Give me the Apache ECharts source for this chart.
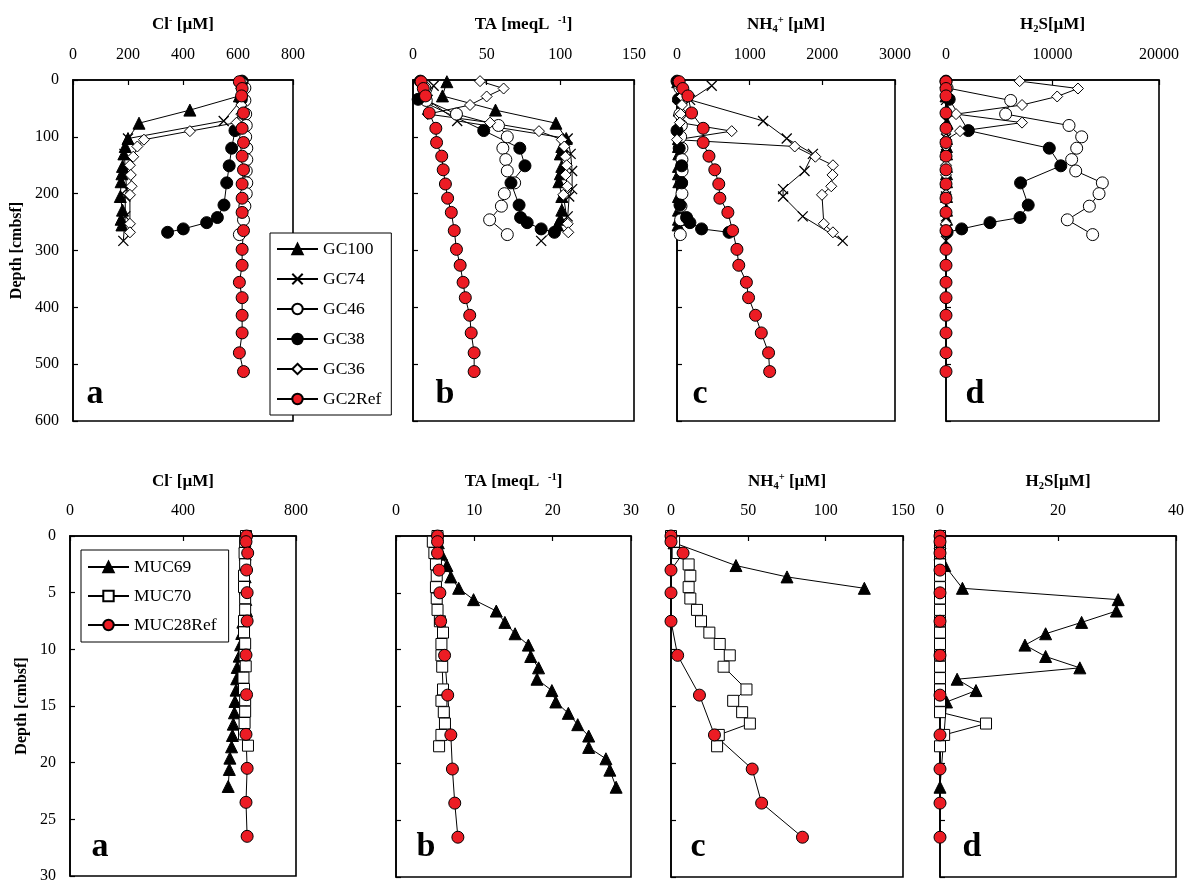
<!DOCTYPE html>
<html><head><meta charset="utf-8">
<script src="https://cdn.jsdelivr.net/npm/echarts@6/dist/echarts.min.js"></script>
<style>html,body{margin:0;padding:0;background:#fff}#c{width:1189px;height:884px}</style>
</head><body><div id="c"></div><script>
// ===== Gravity cores (top row); depth in cmbsf =====
const gc100Depth = [3, 28, 53, 76, 103, 117, 130, 152, 165, 179, 205, 229, 245, 255];
const gc100Cl  = [615, 605, 425, 240, 200, 190, 185, 180, 178, 175, 172, 180, 175, 178];
const gc100TA  = [23, 20, 56, 97, 104, 101, 100, 101, 100, 99, 101, 101, 100, 98];
const gc100NH4 = [10, 20, 30, 25, 20, 20, 25, 20, 20, 25, 20, 20, 20, 15];
const gc100H2S = [0, 0, 100, 100, 50, 50, 50, 50, 50, 50, 50, 50, 50, 50];

const gc74Depth = [10, 35, 72, 103, 130, 160, 192, 205, 240, 283];
const gc74Cl  = [615, 612, 548, 200, 187, 190, 195, 190, 190, 183];
const gc74TA  = [14, 10, 30, 105, 107, 108, 108, 106, 105, 87];
const gc74NH4 = [478, 180, 1185, 1510, 1870, 1755, 1460, 1460, 1730, 2280];
const gc74H2S = [0, 0, 0, 0, 0, 0, 0, 0, 0, 0];

const gc46Depth = [14, 36, 60, 80, 100, 120, 140, 160, 181, 200, 222, 246, 272];
const gc46Cl  = [625, 625, 628, 630, 628, 632, 632, 630, 632, 630, 625, 620, 605];
const gc46TA  = [8, 9, 29.5, 58, 64, 61, 63, 64, 69, 62, 60, 52, 64];
const gc46NH4 = [40, 50, 40, 60, 50, 68, 68, 70, 60, 68, 55, 50, 45];
const gc46H2S = [100, 6075, 5600, 11550, 12740, 12270, 11800, 12180, 14680, 14370, 13460, 11390, 13770];

const gc38Depth = [2, 34, 89, 120, 151, 181, 220, 242, 251, 262, 268];
const gc38Cl  = [615, 612, 589, 577, 568, 559, 549, 525, 486, 401, 344];
const gc38TA  = [5, 3.5, 48, 72.5, 76, 66.5, 72, 73, 77.5, 87, 96];
const gc38NH4 = [0, 20, 0, 30, 64, 64, 41, 132, 178, 338, 716];
const gc38H2S = [0, 300, 2100, 9700, 10780, 7000, 7720, 6950, 4130, 1470, 100];

const gc36Depth = [2, 15, 29, 44, 60, 75, 90, 105, 117, 135, 150, 167, 187, 202, 253, 268];
const gc36Cl  = [615, 612, 612, 612, 612, 595, 425, 258, 234, 219, 207, 210, 213, 207, 207, 207];
const gc36TA  = [45.5, 61.5, 50, 38.7, 10, 52.3, 85.5, 101, 102.7, 103.5, 104.3, 103.6, 104.7, 102, 105, 105.4];
const gc36NH4 = [10, 60, 70, 68, 50, 40, 753, 0, 1620, 1904, 2146, 2140, 2123, 1995, 2020, 2146];
const gc36H2S = [6915, 12390, 10440, 7140, 943, 7140, 1320, 0, 0, 0, 0, 0, 0, 0, 0, 0];

const gc2Depth = [3, 15, 28, 58, 85, 110, 134, 158, 183, 208, 233, 265, 298, 326, 356, 383, 414, 445, 480, 513];
const gc2Cl  = [605, 615, 613, 620, 615, 620, 615, 620, 615, 615, 615, 620, 615, 615, 605, 615, 615, 615, 605, 620];
const gc2TA  = [5.5, 7, 8.5, 11, 15.5, 16, 19.5, 20.5, 22, 23.5, 26, 28, 29.5, 32, 34, 35.5, 38.5, 39.5, 41.5, 41.5];
const gc2NH4 = [30, 80, 150, 200, 360, 360, 440, 520, 575, 590, 700, 765, 825, 850, 955, 985, 1080, 1160, 1260, 1275];
const gc2H2S = [0, 0, 0, 0, 0, 0, 0, 0, 0, 0, 0, 0, 0, 0, 0, 0, 0, 0, 0, 0];

// ===== Multicorer cores (bottom row) =====
const muc69Depth = [0.6, 1.6, 2.6, 3.6, 4.6, 5.6, 6.6, 7.6, 8.6, 9.6, 10.6, 11.6, 12.6, 13.6, 14.6, 15.6, 16.6, 17.6, 18.6, 19.6, 20.6, 22.1];
const muc69Cl  = [620, 620, 622, 620, 620, 622, 625, 612, 608, 604, 599, 592, 590, 588, 584, 582, 578, 575, 572, 566, 564, 560];
const muc69TA  = [5.4, 5.8, 6.5, 7.0, 8.0, 9.9, 12.8, 13.9, 15.2, 16.9, 17.2, 18.2, 18.0, 19.9, 20.4, 22.0, 23.2, 24.6, 24.6, 26.8, 27.3, 28.1];
const muc69NH4 = [2, null, 42, 75, 125, null, null, null, null, null, null, null, null, null, null, null, null, null, null, null, null, null];
const muc69H2S = [0, 0, 0.8, null, 3.8, 30.2, 29.9, 24, 17.9, 14.4, 17.9, 23.7, 2.9, 6.1, 1.1, null, null, null, null, null, null, 0];

const muc70Depth = [0, 0.5, 1.5, 2.5, 3.5, 4.5, 5.5, 6.5, 7.5, 8.5, 9.5, 10.5, 11.5, 12.5, 13.5, 14.5, 15.5, 16.5, 17.5, 18.5];
const muc70Cl  = [623, 620, 618, 620, 616, 616, 620, 620, 616, 616, 620, 618, 622, 614, 616, 620, 620, 618, 616, 630];
const muc70TA  = [5.3, 4.7, 4.9, 5.1, 5.2, 5.1, 5.2, 5.3, 5.6, 6.0, 5.8, 5.8, 5.9, null, 6.0, 5.8, 6.1, 6.25, 5.8, 5.5];
const muc70NH4 = [0, 2, 4.3, 11.4, 12.5, 11.4, 12.5, 16.8, 19.4, 24.8, 31.5, 38, 34, null, 48.8, 40.2, 46, 51, 30.9, 29.8];
const muc70H2S = [0, 0, 0, 0, 0, 0, 0, 0, 0, 0, 0, 0, 0, 0, 0, 0, 0, 7.8, 0.7, 0];

const muc28Depth = [0, 0.5, 1.5, 3, 5, 7.5, 10.5, 14, 17.5, 20.5, 23.5, 26.5];
const muc28Cl  = [625, 623, 629, 625, 627, 627, 623, 625, 623, 627, 623, 627];
const muc28TA  = [5.3, 5.3, 5.3, 5.5, 5.6, 5.7, 6.2, 6.6, 7.0, 7.2, 7.5, 7.9];
const muc28NH4 = [0, 0, 7.8, 0, 0, 0, 4.3, 18.4, 28.1, 52.5, 58.6, 85];
const muc28H2S = [0, 0, 0, 0, 0, 0, 0, 0, 0, 0, 0, 0];

// ===== Axis ranges / tick labels =====
const topXMax = [800, 150, 3000, 20000];
const topXStep = [200, 50, 1000, 10000];
const botXMax = [800, 30, 150, 40];
const botXStep = [400, 10, 50, 20];
const topDepthMax = 600, topDepthStep = 100;
const botDepthMax = 30, botDepthStep = 5;
const panelLetters = ['a', 'b', 'c', 'd'];
const titles = [
  '{t|Cl}{sup|-}{t| [µM]}',
  '{t|TA [meqL  }{sup|-1}{t|]}',
  '{t|NH}{sub|4}{sup|+}{t| [µM]}',
  '{t|H}{sub|2}{t|S[µM]}'
];

const SERIF = 'Liberation Serif';
const RED = '#ec1c24';
const XPATH = 'path://M0,0L10,10M10,0L0,10';

const topGrids = [
  {left: 73, top: 80, width: 220, height: 341},
  {left: 413, top: 80, width: 221, height: 341},
  {left: 677, top: 80, width: 218, height: 341},
  {left: 946, top: 80, width: 213, height: 341}
];
const botGrids = [
  {left: 70, top: 536, width: 226, height: 341},
  {left: 396, top: 536, width: 235, height: 341},
  {left: 671, top: 536, width: 232, height: 341},
  {left: 940, top: 536, width: 236, height: 341}
];

function pts(depths, vals) {
  const out = [];
  depths.forEach((d, i) => { if (vals[i] != null) out.push([vals[i], d]); });
  return out;
}

const rich = {
  t: {fontFamily: SERIF, fontWeight: 'bold', fontSize: 17, lineHeight: 20, color: '#000'},
  sup: {fontFamily: SERIF, fontWeight: 'bold', fontSize: 10.5, lineHeight: 10, verticalAlign: 'top', color: '#000'},
  sub: {fontFamily: SERIF, fontWeight: 'bold', fontSize: 10.5, lineHeight: 10, verticalAlign: 'bottom', color: '#000'}
};

const grids = [], xAxes = [], yAxes = [], series = [];
const axisCommon = {
  axisLine: {show: true, lineStyle: {color: '#000', width: 1.6}},
  axisTick: {show: true, inside: true, length: 5, lineStyle: {color: '#000', width: 1.2}},
  splitLine: {show: false}
};

function addPanel(g, row, i) {
  grids.push(Object.assign({show: true, borderColor: '#000', borderWidth: 1.6, backgroundColor: 'transparent'}, g));
  const idx = grids.length - 1;
  const xmax = row === 0 ? topXMax[i] : botXMax[i];
  const xstep = row === 0 ? topXStep[i] : botXStep[i];
  xAxes.push(Object.assign({
    type: 'value', gridIndex: idx, position: 'top', min: 0, max: xmax, interval: xstep,
    name: titles[i], nameLocation: 'middle', nameGap: row === 0 ? 45 : 44,
    nameTextStyle: {rich: rich},
    axisLabel: {show: true, margin: 17, fontFamily: SERIF, fontSize: 16, color: '#000', formatter: v => String(v)}
  }, axisCommon));
  yAxes.push(Object.assign({
    type: 'value', gridIndex: idx, inverse: true, min: 0,
    max: row === 0 ? topDepthMax : botDepthMax,
    interval: row === 0 ? topDepthStep : botDepthStep,
    name: i === 0 ? 'Depth [cmbsf]' : '', nameLocation: 'middle', nameGap: row === 0 ? 48 : 40,
    nameTextStyle: {fontFamily: SERIF, fontWeight: 'bold', fontSize: 16, color: '#000'},
    axisLabel: {show: i === 0, margin: 14, fontFamily: SERIF, fontSize: 16, color: '#000'}
  }, axisCommon));
  return idx;
}

function mkSeries(name, idx, data, sym, size, fill, border) {
  return {
    type: 'line', name: name, xAxisIndex: idx, yAxisIndex: idx, data: data,
    symbol: sym, symbolSize: size, showAllSymbol: true, clip: false,
    lineStyle: {color: '#000', width: 1},
    itemStyle: {color: fill, borderColor: '#000', borderWidth: border},
    emphasis: {disabled: true}, animation: false
  };
}

const topCores = [
  {name: 'GC100', depth: gc100Depth, vals: [gc100Cl, gc100TA, gc100NH4, gc100H2S], sym: 'triangle', size: 12, fill: '#000', bw: 1},
  {name: 'GC74', depth: gc74Depth, vals: [gc74Cl, gc74TA, gc74NH4, gc74H2S], sym: XPATH, size: 10, fill: '#000', bw: 1.3},
  {name: 'GC46', depth: gc46Depth, vals: [gc46Cl, gc46TA, gc46NH4, gc46H2S], sym: 'circle', size: 12, fill: '#fff', bw: 1},
  {name: 'GC38', depth: gc38Depth, vals: [gc38Cl, gc38TA, gc38NH4, gc38H2S], sym: 'circle', size: 12, fill: '#000', bw: 1},
  {name: 'GC36', depth: gc36Depth, vals: [gc36Cl, gc36TA, gc36NH4, gc36H2S], sym: 'diamond', size: 11, fill: '#fff', bw: 1},
  {name: 'GC2Ref', depth: gc2Depth, vals: [gc2Cl, gc2TA, gc2NH4, gc2H2S], sym: 'circle', size: 12, fill: RED, bw: 1}
];
const botCores = [
  {name: 'MUC69', depth: muc69Depth, vals: [muc69Cl, muc69TA, muc69NH4, muc69H2S], sym: 'triangle', size: 12, fill: '#000', bw: 1},
  {name: 'MUC70', depth: muc70Depth, vals: [muc70Cl, muc70TA, muc70NH4, muc70H2S], sym: 'rect', size: 11, fill: '#fff', bw: 1},
  {name: 'MUC28Ref', depth: muc28Depth, vals: [muc28Cl, muc28TA, muc28NH4, muc28H2S], sym: 'circle', size: 12, fill: RED, bw: 1}
];

topGrids.forEach((g, i) => {
  const idx = addPanel(g, 0, i);
  topCores.forEach(c => series.push(mkSeries(c.name, idx, pts(c.depth, c.vals[i]), c.sym, c.size, c.fill, c.bw)));
});
botGrids.forEach((g, i) => {
  const idx = addPanel(g, 1, i);
  botCores.forEach(c => series.push(mkSeries(c.name, idx, pts(c.depth, c.vals[i]), c.sym, c.size, c.fill, c.bw)));
});

const letterPos = [[95, 394], [445, 394], [700, 394], [975, 394], [100, 847], [426, 847], [698, 847], [972, 847]];
const graphics = letterPos.map((p, k) => ({
  type: 'text', x: p[0], y: p[1], z: 10,
  style: {text: panelLetters[k % 4], fontFamily: SERIF, fontWeight: 'bold', fontSize: 34, fill: '#000', align: 'center', verticalAlign: 'middle'}
}));

const legendCommon = {
  orient: 'vertical', backgroundColor: '#fff', borderColor: '#000', borderWidth: 1,
  itemWidth: 41, itemHeight: 13, selectedMode: false,
  textStyle: {fontFamily: SERIF, fontSize: 17.5, color: '#000', lineHeight: 18}
};

const chart = echarts.init(document.getElementById('c'), null, {renderer: 'canvas'});
chart.setOption({
  backgroundColor: '#fff',
  animation: false,
  grid: grids, xAxis: xAxes, yAxis: yAxes, series: series,
  legend: [
    Object.assign({data: topCores.map(c => c.name), left: 270, top: 233, itemGap: 12, padding: [7, 10, 7, 6]}, legendCommon),
    Object.assign({data: botCores.map(c => c.name), left: 81, top: 550, itemGap: 11, padding: [8, 12, 8, 6]}, legendCommon)
  ],
  graphic: graphics
});
</script></body></html>
